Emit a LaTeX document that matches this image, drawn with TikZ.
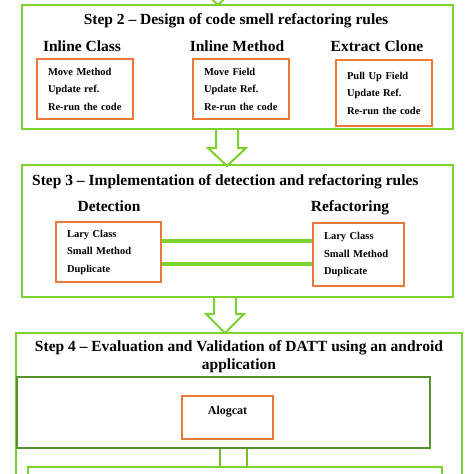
\documentclass[tikz,border=0pt]{standalone}
\usepackage{fontspec}
\setmainfont{Liberation Serif}
\usetikzlibrary{positioning}
\definecolor{lime}{RGB}{124,209,46}
\definecolor{leaf}{RGB}{86,146,40}
\definecolor{rust}{RGB}{234,120,58}
\tikzset{
  stepbox/.style={draw=lime, line width=2.2pt, inner sep=0pt},
  innerbox/.style={draw=leaf, line width=2pt, inner sep=0pt},
  rulebox/.style={draw=rust, line width=1.8pt, align=left, inner xsep=11pt,
    font=\fontsize{10.5}{17.5}\selectfont\bfseries},
  steptitle/.style={font=\fontsize{15.5}{18}\selectfont\bfseries, inner sep=0pt},
  link/.style={draw=lime, line width=3.5pt},
  leaflink/.style={draw=lime!70!leaf, line width=2pt},
  bigarrow/.style={draw=lime, line width=2pt, line join=miter},
}
\begin{document}
\begin{tikzpicture}[x=1pt,y=-1pt]
  \useasboundingbox (0,0) rectangle (474,474);
  \clip (0,0) rectangle (474,474);

  % Hollow arrows between the steps
  \foreach \tx/\ya/\yb/\yc in {218/-40/-13/5, 227/129/148/166, 225/297/314/333}
    \draw[bigarrow] (\tx-11,\ya) -- (\tx-11,\yb) -- (\tx-19,\yb) -- (\tx,\yc)
      -- (\tx+19,\yb) -- (\tx+11,\yb) -- (\tx+11,\ya);

  % Step 2
  \node[stepbox, minimum width=431pt, minimum height=124pt] (s2) at (237.5,67) {};
  \node[steptitle, anchor=base] (t2) at (236,24) {Step 2 -- Design of code smell refactoring rules};
  \node[steptitle, anchor=base] (icname) at (82,51) {Inline Class};
  \node[steptitle, anchor=base] (imname) at (237,51) {Inline Method};
  \node[steptitle, anchor=base] (ecname) at (377,51) {Extract Clone};
  \node[rulebox, text width=74pt, minimum height=60pt] (ic) at (85,89)
    {Move Method\\Update ref.\\Re-run the code};
  \node[rulebox, text width=74pt, minimum height=60pt] (im) at (241,89)
    {Move Field\\Update Ref.\\Re-run the code};
  \node[rulebox, text width=74pt, minimum height=66pt] (ec) at (384,93)
    {Pull Up Field\\Update Ref.\\Re-run the code};

  % Step 3
  \node[stepbox, minimum width=431pt, minimum height=132pt] (s3) at (237.5,231) {};
  \node[steptitle, anchor=base west] (t3) at (32,185) {Step 3 -- Implementation of detection and refactoring rules};
  \node[steptitle, anchor=base] (detname) at (109,211) {Detection};
  \node[steptitle, anchor=base] (refname) at (350,211) {Refactoring};
  \node[rulebox, text width=83pt, minimum height=60pt] (det) at (108.5,252)
    {Lary Class\\Small Method\\Duplicate};
  \node[rulebox, text width=69pt, minimum height=63pt] (ref) at (358.5,254.5)
    {Lary Class\\Small Method\\Duplicate};
  \draw[link] ([yshift=11pt]det.east) -- ([yshift=11pt]det.east -| ref.west);
  \draw[link] ([yshift=-12pt]det.east) -- ([yshift=-12pt]det.east -| ref.west);

  % Step 4
  \node[stepbox, minimum width=446pt, minimum height=197pt] (s4) at (239,431.5) {};
  \node[steptitle, anchor=base, align=center] (t4) at (239,369)
    {Step 4 -- Evaluation and Validation of DATT using an android\\application};
  \node[innerbox, minimum width=413pt, minimum height=71pt] (app) at (223.5,412.5) {};
  \node[draw=rust, line width=1.8pt, minimum width=91pt, minimum height=43pt,
    label={[font=\fontsize{12}{14}\selectfont\bfseries, anchor=base, yshift=-19pt]north:Alogcat}]
    (alogcat) at (227.5,417.5) {};
  \node[stepbox, minimum width=414pt, minimum height=63pt] (bot) at (235,498.5) {};
  \draw[leaflink] ([xshift=-3.5pt]app.south) -- ([xshift=-3.5pt]app.south |- bot.north);
  \draw[leaflink] ([xshift=23.5pt]app.south) -- ([xshift=23.5pt]app.south |- bot.north);
\end{tikzpicture}
\end{document}
